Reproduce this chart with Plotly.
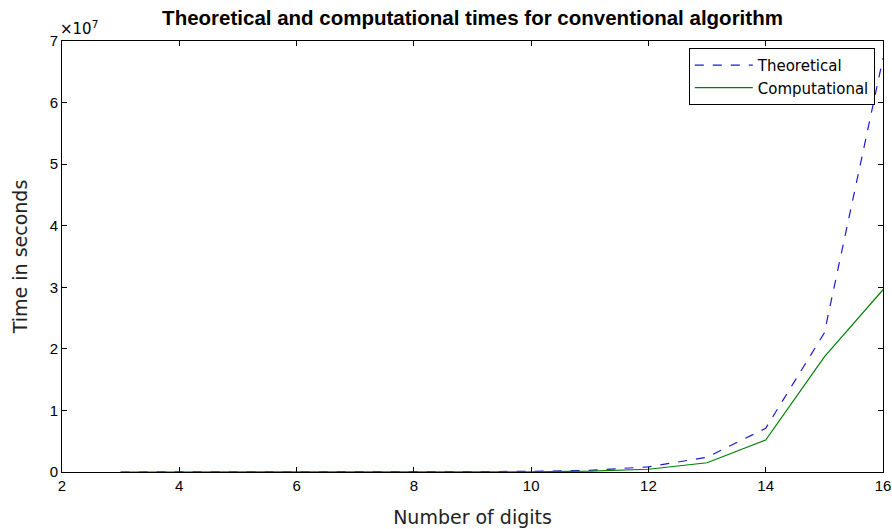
import plotly.graph_objects as go

digits = [3, 4, 5, 6, 7, 8, 9, 10, 11, 12, 13, 14, 15, 16]
theoretical = [42, 130, 380, 1100, 3400, 10000, 31000, 92000, 280000, 830000,
               2400000, 7100000, 22600000, 67200000]
computational = [10, 30, 100, 300, 1000, 4000, 12000, 40000, 130000, 450000,
                 1500000, 5200000, 18700000, 29600000]
y_ticks = [0, 1, 2, 3, 4, 5, 6, 7]
x_ticks = [2, 4, 6, 8, 10, 12, 14, 16]

font = "Liberation Sans, Arial, Helvetica, sans-serif"
wide = "DejaVu Sans, Verdana, sans-serif"

fig = go.Figure()
fig.add_trace(go.Scatter(x=digits, y=theoretical, mode="lines", name="Theoretical",
                         line=dict(color="#1a1ad0", width=1.2, dash="dash")))
fig.add_trace(go.Scatter(x=digits, y=computational, mode="lines", name="Computational",
                         line=dict(color="#008000", width=1.2)))

axis_common = dict(showgrid=False, zeroline=False, showline=True, mirror="ticks",
                   linecolor="black", linewidth=1, ticks="inside", ticklen=5,
                   tickcolor="black", ticklabeloverflow="allow", automargin=False,
                   tickfont=dict(family=font, size=15, color="black"))

fig.update_layout(
    width=892, height=529,
    margin=dict(l=62, r=9, t=41, b=57),
    plot_bgcolor="white", paper_bgcolor="white",
    title=dict(text="<b>Theoretical and computational times for conventional algorithm</b>",
               x=(62 + 883) / 2 / 892, xanchor="center", y=1 - 18 / 529, yanchor="middle",
               font=dict(family=font, size=20.5, color="black")),
    xaxis=dict(range=[2, 16], tickvals=x_ticks, ticktext=[str(v) for v in x_ticks],
               title=dict(text="Number of digits", font=dict(family=wide, size=19, color="#222"),
                          standoff=17),
               **axis_common),
    yaxis=dict(range=[0, 7e7], tickvals=[v * 1e7 for v in y_ticks],
               ticktext=[str(v) for v in y_ticks],
               title=dict(text="Time in seconds", font=dict(family=wide, size=19, color="#222"),
                          standoff=17),
               **axis_common),
    legend=dict(x=0.99, y=0.984, xanchor="right", yanchor="top",
                bgcolor="white", bordercolor="black", borderwidth=1,
                font=dict(family=wide, size=15, color="black"),
                itemwidth=58, tracegroupgap=0),
    showlegend=True,
)

fig.add_annotation(text="×10<sup>7</sup>", xref="paper", yref="paper", x=0, y=1,
                   xanchor="left", yanchor="bottom", showarrow=False, xshift=-4, yshift=1,
                   font=dict(family=wide, size=15, color="black"))

fig.write_html("out.html", config={"displayModeBar": False},
               post_script="document.body.style.margin='0';")
